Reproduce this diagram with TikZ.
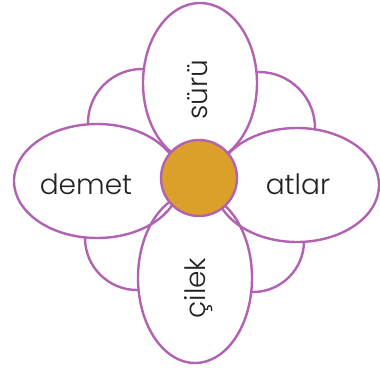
\documentclass[tikz,border=0pt]{standalone}
\usepackage{fontspec}
\setmainfont{Poppins}[UprightFont=* Light]
\definecolor{petal}{RGB}{178,98,178}
\definecolor{core}{RGB}{219,160,42}
\definecolor{ink}{RGB}{34,34,34}
\begin{document}
\begin{tikzpicture}[x=1pt,y=-1pt,
  outline/.style={draw=petal,line width=2.4pt},
  word/.style={text=ink,font=\fontsize{28}{28}\selectfont,inner sep=0pt}]
\useasboundingbox (0,0) rectangle (380,367);
% back petals
\draw[outline,fill=white] (142,123) circle [radius=54pt];
\draw[outline,fill=white] (259,128) circle [radius=56pt];
\draw[outline,fill=white] (137,238) circle [radius=52pt];
\draw[outline,fill=white] (253,241) circle [radius=51pt];
% main petals: fill first
\fill[white] (97,181) ellipse [x radius=83pt, y radius=57pt];
\fill[white] (297,185) ellipse [x radius=82pt, y radius=57pt];
\fill[white] (200,83) ellipse [x radius=57pt, y radius=80pt];
\fill[white] (195,278) ellipse [x radius=57pt, y radius=85pt];
\draw[outline] (97,181) ellipse [x radius=83pt, y radius=57pt];
\draw[outline] (297,185) ellipse [x radius=82pt, y radius=57pt];
\draw[outline] (200,83) ellipse [x radius=57pt, y radius=80pt];
\draw[outline] (195,278) ellipse [x radius=57pt, y radius=85pt];
% centre
\draw[outline,fill=core] (199,178) circle [radius=38pt];
% words
\node[word] (demet) at (86,184) {demet};
\node[word] (atlar) at (298,184) {atlar};
\node[word,rotate=90] (suru) at (198,90) {sürü};
\node[word,rotate=90] (cilek) at (199,288) {çilek};
\end{tikzpicture}
\end{document}
